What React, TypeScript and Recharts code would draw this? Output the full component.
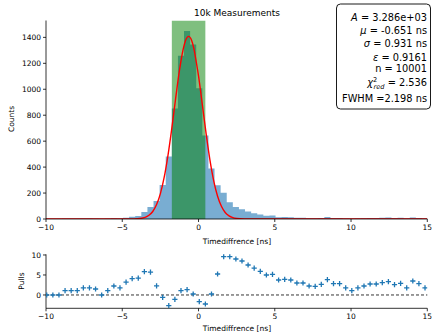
import React from 'react';
import {
  ComposedChart,
  ScatterChart,
  Scatter,
  Area,
  Line,
  XAxis,
  YAxis,
  ReferenceLine,
} from 'recharts';

// ---- data ----
const binCenters = [
  -9.95, -9.55, -9.15, -8.75, -8.35, -7.95, -7.55, -7.15, -6.75, -6.35, -5.95, -5.55, -5.15,
  -4.75, -4.35, -3.95, -3.55, -3.15, -2.75, -2.35, -1.95, -1.55, -1.15, -0.75, -0.35, 0.05,
  0.45, 0.85, 1.25, 1.65, 2.05, 2.45, 2.85, 3.25, 3.65, 4.05, 4.45, 4.85, 5.25, 5.65, 6.05,
  6.45, 6.85, 7.25, 7.65, 8.05, 8.45, 8.85, 9.25, 9.65, 10.05, 10.45, 10.85, 11.25, 11.65,
  12.05, 12.45, 12.85, 13.25, 13.65, 14.05, 14.45, 14.85,
];
const binWidth = 0.4;
const counts = [
  0, 0, 0, 1, 1, 1, 3, 3, 2, 0, 1, 5, 3,
  10, 18, 23, 54, 93, 138, 262, 482, 852, 1258, 1450, 1345, 1008, 643, 389, 260, 203, 130, 92, 75,
  57, 45, 35, 25, 27, 14, 15, 14, 9, 9, 5, 5, 7, 15, 8, 8, 3, 1, 3, 5, 8, 8, 9, 11, 7, 9, 3, 12, 8, 3,
];
const pulls = [
  0, 0, 0, 1.1, 1.1, 1.1, 1.8, 1.8, 1.5, 0, 1.1, 2.25, 1.8,
  3.2, 4.1, 4.2, 5.85, 5.7, 2.3, -0.6, -2.65, -1.1, 1.1, 1.35, 0.25, -1.65, -2.25, 0.25, 5.25, 9.6, 9.6, 9.0, 8.5,
  7.5, 6.7, 5.9, 5.0, 5.15, 3.75, 3.9, 3.75, 3.0, 3.0, 2.25, 2.15, 2.65, 3.85, 2.85, 2.85, 1.8, 1.1, 1.8, 2.25,
  2.75, 2.75, 3.1, 3.35, 2.6, 2.9, 1.8, 3.5, 2.85, 1.8,
];
const fitX = [
  -10, -5, -4.5, -4, -3.5, -3.25, -3, -2.75, -2.5, -2.25, -2, -1.75, -1.5, -1.25, -1, -0.85,
  -0.65, -0.45, -0.3, -0.15, 0, 0.25, 0.5, 0.75, 1, 1.25, 1.5, 1.75, 2, 2.25, 2.5, 3, 3.5, 15,
];
const fitY = [
  0, 0, 0.3, 2.2, 13, 29, 58, 111, 196, 322, 493, 701, 929, 1145, 1312, 1376,
  1408, 1376, 1311, 1212, 1103, 881, 656, 454, 292, 175, 98, 50, 24, 11, 4.6, 0.6, 0, 0,
];
const fitMu = -0.651;
const fitFwhm = 2.198;
const xTicks = [-10, -5, 0, 5, 10, 15];
const countTicks = [0, 200, 400, 600, 800, 1000, 1200, 1400];
const pullTicks = [0, 5, 10];
const countMax = 1530;
const pullDomain = [-3.33, 10.17];

// ---- tables built from the data ----
const histData = binCenters.map((c, i) => ({ x: c - binWidth / 2, count: counts[i] }));
histData.push({
  x: binCenters[binCenters.length - 1] + binWidth / 2,
  count: counts[counts.length - 1],
});
const spanData = [
  { x: fitMu - fitFwhm / 2, v: countMax },
  { x: fitMu + fitFwhm / 2, v: countMax },
];
const fitData = fitX.map((x, i) => ({ x, fit: fitY[i] }));
const pullData = binCenters.map((c, i) => ({ x: c, p: pulls[i] }));

const FONT = 'DejaVu Sans, sans-serif';
const tickStyle = { fontSize: 7.5, fill: '#000', fontFamily: FONT };
const fmt = (v: number) => (v < 0 ? '\u2212' + Math.abs(v) : String(v));
const AX = { stroke: '#000', strokeWidth: 0.8 };

const PlusShape = (props: any) => {
  const { cx, cy } = props;
  if (cx == null || cy == null) return null;
  return (
    <path
      d={`M${cx - 2.6},${cy}h5.2M${cx},${cy - 2.6}v5.2`}
      stroke="#1f77b4"
      strokeWidth={1.3}
      fill="none"
    />
  );
};

export default function App() {
  return (
    <div
      style={{
        position: 'absolute',
        left: 0,
        top: 0,
        width: 432,
        height: 333,
        background: '#fff',
        overflow: 'hidden',
      }}
    >
      <div style={{ position: 'absolute', left: 0, top: 0 }}>
        <ComposedChart
          width={432}
          height={250}
          data={histData}
          margin={{ top: 20.5, right: 4.7, bottom: 0, left: 0 }}
        >
          <XAxis
            type="number"
            dataKey="x"
            domain={[-10, 15]}
            ticks={xTicks}
            allowDataOverflow
            tickFormatter={fmt}
            tick={tickStyle}
            tickSize={3}
            tickMargin={3}
            height={31}
            axisLine={AX}
            tickLine={AX}
          />
          <XAxis
            xAxisId="top"
            orientation="top"
            type="number"
            domain={[-10, 15]}
            tick={false}
            tickLine={false}
            height={0}
            axisLine={AX}
          />
          <YAxis
            type="number"
            domain={[0, countMax]}
            ticks={countTicks}
            allowDataOverflow
            tick={tickStyle}
            tickSize={3}
            tickMargin={2}
            width={46}
            axisLine={AX}
            tickLine={AX}
          />
          <YAxis
            yAxisId="right"
            orientation="right"
            type="number"
            domain={[0, 1]}
            tick={false}
            tickLine={false}
            width={0}
            axisLine={AX}
          />
          <Area
            type="stepAfter"
            dataKey="count"
            fill="#1f77b4"
            fillOpacity={0.6}
            stroke="none"
            isAnimationActive={false}
            dot={false}
            activeDot={false}
          />
          <Area
            data={spanData}
            type="linear"
            dataKey="v"
            fill="#008000"
            fillOpacity={0.5}
            stroke="none"
            isAnimationActive={false}
            dot={false}
            activeDot={false}
          />
          <Line
            data={fitData}
            type="monotone"
            dataKey="fit"
            stroke="#ff0000"
            strokeWidth={1.4}
            dot={false}
            activeDot={false}
            isAnimationActive={false}
          />
        </ComposedChart>
      </div>

      <div style={{ position: 'absolute', left: 0, top: 250 }}>
        <ScatterChart
          width={432}
          height={83}
          margin={{ top: 4.3, right: 4.7, bottom: 0, left: 0 }}
        >
          <XAxis
            type="number"
            dataKey="x"
            domain={[-10, 15]}
            ticks={xTicks}
            allowDataOverflow
            tickFormatter={fmt}
            tick={tickStyle}
            tickSize={3}
            tickMargin={2}
            height={24.7}
            axisLine={AX}
            tickLine={AX}
          />
          <XAxis
            xAxisId="top"
            orientation="top"
            type="number"
            domain={[-10, 15]}
            tick={false}
            tickLine={false}
            height={0}
            axisLine={AX}
          />
          <YAxis
            type="number"
            dataKey="p"
            domain={pullDomain}
            ticks={pullTicks}
            allowDataOverflow
            tick={tickStyle}
            tickSize={3}
            tickMargin={2}
            width={46}
            axisLine={AX}
            tickLine={AX}
          />
          <YAxis
            yAxisId="right"
            orientation="right"
            type="number"
            domain={[0, 1]}
            tick={false}
            tickLine={false}
            width={0}
            axisLine={AX}
          />
          <ReferenceLine y={0} stroke="#000" strokeWidth={0.8} strokeDasharray="3 2" />
          <Scatter data={pullData} shape={PlusShape} isAnimationActive={false} />
        </ScatterChart>
      </div>

      <svg
        width={432}
        height={333}
        style={{ position: 'absolute', left: 0, top: 0, pointerEvents: 'none' }}
        fontFamily={FONT}
      >
        <text x={237} y={15.5} textAnchor="middle" fontSize={9} fill="#000">
          10k Measurements
        </text>
        <text x={237} y={244} textAnchor="middle" fontSize={7.5} fill="#000">
          Timediffrence [ns]
        </text>
        <text x={237} y={331} textAnchor="middle" fontSize={7.5} fill="#000">
          Timediffrence [ns]
        </text>
        <text
          x={14}
          y={119}
          textAnchor="middle"
          fontSize={7.5}
          fill="#000"
          transform="rotate(-90 14 119)"
        >
          Counts
        </text>
        <text
          x={24}
          y={281}
          textAnchor="middle"
          fontSize={7.5}
          fill="#000"
          transform="rotate(-90 24 281)"
        >
          Pulls
        </text>
        <rect x={336.5} y={4} width={94} height={105} rx={4} ry={4} fill="#fff" stroke="#000" strokeWidth={0.9} />
        <g fontSize={9.8} fill="#000" textAnchor="end">
          <text x={427} y={20.5}>
            <tspan fontStyle="italic">A</tspan> = 3.286e+03
          </text>
          <text x={427} y={33.8}>
            <tspan fontStyle="italic">μ</tspan> = -0.651 ns
          </text>
          <text x={427} y={47}>
            <tspan fontStyle="italic">σ</tspan> = 0.931 ns
          </text>
          <text x={427} y={60.5}>
            <tspan fontStyle="italic">ε</tspan> = 0.9161
          </text>
          <text x={427} y={72}>
            n = 10001
          </text>
          <text x={427} y={85.5}>
            <tspan fontStyle="italic">χ</tspan>
            <tspan fontSize={6.6} dy={-4}>2</tspan>
            <tspan fontSize={6.6} fontStyle="italic" dx={-3.7} dy={7}>red</tspan>
            <tspan dy={-3}> = 2.536</tspan>
          </text>
          <text x={427} y={101.5}>
            FWHM =2.198 ns
          </text>
        </g>
      </svg>
    </div>
  );
}
